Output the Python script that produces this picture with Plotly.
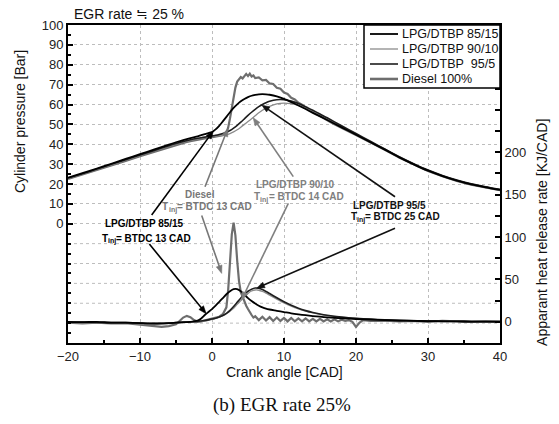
import numpy as np
import plotly.graph_objects as go

# ---------------- data ----------------
CA = [-20, -18, -16, -14, -12, -10, -8, -6, -5, -4, -3, -2, -1.5, -1, -0.5, 0, 0.5, 1, 1.5, 2,
      2.5, 3, 3.5, 4, 4.5, 5, 5.5, 6, 6.5, 7, 7.5, 8, 9, 10, 11, 12, 13, 14, 15, 16,
      18, 20, 22, 24, 26, 28, 30, 32, 34, 36, 38, 40]

P_85_15 = [23.2, 25.5, 27.8, 30.2, 32.6, 35.0, 37.4, 39.8, 41.0, 42.1, 43.1, 44.0, 44.6, 45.1, 45.6, 46.2, 47.5, 49.3, 51.5, 53.8,
           56.1, 58.3, 60.1, 61.6, 62.8, 63.7, 64.4, 64.8, 65.1, 65.2, 65.1, 64.9, 64.1, 62.8, 61.2, 59.5, 57.7, 55.8, 54.0, 52.2,
           48.5, 44.8, 41.0, 37.3, 33.4, 29.9, 26.7, 24.0, 21.7, 19.8, 18.3, 17.0]
P_90_10 = [22.8, 25.0, 27.3, 29.6, 32.0, 34.3, 36.7, 39.0, 40.1, 41.1, 42.0, 42.7, 43.0, 43.3, 43.6, 43.9, 44.1, 44.3, 44.5, 44.8,
           45.4, 46.2, 47.3, 48.6, 50.0, 51.4, 52.8, 54.3, 55.8, 57.1, 58.2, 59.1, 60.3, 60.7, 60.4, 59.6, 58.3, 56.7, 54.9, 53.0,
           49.0, 45.1, 41.2, 37.4, 33.5, 30.0, 26.8, 24.1, 21.8, 19.9, 18.4, 17.1]
P_95_5 = [23.0, 25.2, 27.5, 29.9, 32.2, 34.6, 36.9, 39.3, 40.4, 41.4, 42.3, 43.0, 43.3, 43.6, 43.9, 44.2, 44.5, 44.9, 45.4, 46.0,
          46.9, 48.1, 49.5, 51.1, 52.8, 54.5, 56.1, 57.6, 58.9, 60.0, 60.9, 61.6, 62.4, 62.4, 61.7, 60.5, 58.9, 57.1, 55.2, 53.3,
          49.3, 45.4, 41.5, 37.6, 33.7, 30.2, 27.0, 24.3, 22.0, 20.1, 18.6, 17.3]

HRR_85_15 = [0, -0.5, 0, -1, -1, -1.5, -2, -1.5, -1, -0.5, 0, 1.5, 4, 8, 11.5, 15, 19, 23.5, 28, 32.5,
             36, 38.5, 38.5, 36, 32, 28, 24.5, 21.5, 19, 17, 15.5, 14.5, 13, 11.5, 10, 8.8, 7.8, 6.8, 6, 5.3,
             4.2, 3.2, 2.5, 1.9, 1.5, 1.1, 0.8, 0.6, 0.4, 0.3, 0.2, 0.1]
HRR_90_10 = [0, 0, -0.5, -1, -1.5, -2, -2.5, -2, -1.5, -1, -0.5, 0, 0.5, 1, 1.8, 2.8, 4, 5.5, 7.3, 9.5,
             12.5, 16, 20.5, 25, 29.5, 33.5, 36.3, 37.5, 37.2, 35.8, 33.8, 31.5, 26.8, 22.3, 18.4, 15.2, 12.6, 10.5, 8.8, 7.4,
             5.4, 4, 3, 2.2, 1.7, 1.3, 1, 0.7, 0.5, 0.4, 0.3, 0.2]
HRR_95_5 = [0, -0.5, -0.5, -1, -1, -1.5, -2, -1.5, -1, -0.5, 0, 0.5, 1, 1.6, 2.3, 3.2, 4.3, 5.6, 7.4, 10,
            13.5, 18, 23, 28, 32.5, 36, 38.5, 39.8, 39.5, 38, 35.8, 33.3, 28.3, 23.6, 19.5, 16, 13.2, 11, 9.2, 7.8,
            5.7, 4.2, 3.1, 2.3, 1.7, 1.3, 1, 0.8, 0.6, 0.4, 0.3, 0.2]

CA_DIESEL = [-20, -18, -16, -14, -12, -10, -8, -7, -6, -5,
             -4.5, -4, -3.5, -3, -2.5, -2, -1.5, -1, -0.5, 0, 0.5, 1, 1.5, 2,
             2.25, 2.5, 2.75, 3, 3.25, 3.5, 3.75, 4, 4.25, 4.5, 4.75, 5, 5.25, 5.5, 5.75, 6,
             6.5, 7, 7.5, 8, 8.5, 9, 9.5, 10, 10.5, 11, 11.5, 12, 12.5, 13, 13.5, 14, 14.5, 15, 15.5, 16,
             16.5, 17, 17.5, 18, 18.5, 19, 19.5, 20, 20.5, 21,
             22, 24, 26, 28, 30, 32, 34, 36, 38, 40]
P_DIESEL = [22.6, 24.8, 27.0, 29.3, 31.6, 34.0, 36.3, 37.5, 38.6, 39.7,
            40.2, 40.7, 41.2, 41.6, 42.0, 42.3, 42.6, 42.9, 43.2, 43.5, 43.8, 44.1, 44.6, 45.6,
            48.5, 53.0, 58.5, 64.0, 68.5, 71.5, 72.6, 73.8, 73.1, 74.6, 75.4, 74.3, 75.5, 74.1, 74.6, 73.3,
            73.6, 72.2, 72.4, 70.6, 70.3, 68.4, 67.9, 66.0, 65.3, 63.4, 62.5, 60.9, 59.9, 58.4, 57.3, 56.1, 55.0, 54.0, 53.0, 52.0,
            51.0, 50.1, 49.1, 48.2, 47.3, 46.4, 45.5, 44.6, 43.7, 42.8,
            41.0, 37.2, 33.3, 29.8, 26.6, 23.9, 21.6, 19.7, 18.2, 16.9]
HRR_DIESEL = [-1, -2, -1, -2, -1.5, -3, -5, -6, -5, -3,
              1, 5, 7, 5.5, 2, 0, 0.5, 1.5, 2.5, 3.5, 4.5, 6, 9, 17,
              38, 72, 103, 117, 102, 72, 48, 35, 29, 24, 19, 15, 11, 8, 5, 6.5,
              2, 6, 1.5, 5.5, 1, 5, 1, 4.5, 0.5, 4.5, 0.5, 4, 0.5, 4, 0.5, 3.5, 0.5, 3.5, 0.5, 3,
              0.5, 3, 0.5, 2.5, 1, 2, 0, -6, -1, 2,
              1, 1.5, 0.5, 1, 0, 1, 0.5, 0, 0.5, 0]

X_RANGE = [-20, 40]
P_RANGE = [-60, 100]
H_RANGE = [-25, 350]
X_TICKS = [-20, -10, 0, 10, 20, 30, 40]
P_TICKS = list(range(0, 101, 10))                 # labelled pressure ticks
P_MINOR = [v for v in range(-60, 101, 5) if v not in P_TICKS]
P_GRID_LOW = list(range(-50, 0, 10))              # grid lines below the labelled part
H_TICKS = [0, 50, 100, 150, 200]                  # labelled heat-release ticks
H_MINOR = [v for v in range(-25, 351, 25) if v not in H_TICKS]

# ---------------- figure ----------------
W, H = 559, 424
M = dict(l=68, r=59, t=25, b=81)
PLOT_L, PLOT_T = M["l"], M["t"]
PLOT_W, PLOT_H = W - M["l"] - M["r"], H - M["t"] - M["b"]

fig = go.Figure()
series = [
    ("Diesel 100%", CA_DIESEL, P_DIESEL, HRR_DIESEL, "#6e6e6e", 2.2, "linear"),
    ("LPG/DTBP 90/10", CA, P_90_10, HRR_90_10, "#8c8c8c", 1.3, "spline"),
    ("LPG/DTBP\u00a0 95/5", CA, P_95_5, HRR_95_5, "#1e1e1e", 1.6, "spline"),
    ("LPG/DTBP 85/15", CA, P_85_15, HRR_85_15, "#000000", 1.8, "spline"),
]
for name, xs, ps, hs, col, w, shape in series:
    fig.add_trace(go.Scatter(x=xs, y=ps, mode="lines", name=name, showlegend=False,
                             line=dict(color=col, width=w, shape=shape, smoothing=0.6)))
    fig.add_trace(go.Scatter(x=xs, y=hs, mode="lines", name=name, showlegend=False, yaxis="y2",
                             line=dict(color=col, width=w, shape=shape, smoothing=0.6)))

GRID = "#bdbdbd"
AXFONT = dict(family="Arial, Liberation Sans, sans-serif", size=13, color="#222")
fig.update_layout(
    width=W, height=H, margin=M,
    paper_bgcolor="white", plot_bgcolor="white",
    font=AXFONT, showlegend=False,
    xaxis=dict(range=X_RANGE, tickvals=X_TICKS, ticks="inside", ticklen=5, tickwidth=1.5,
               tickcolor="black", minor=dict(dtick=5, ticks="inside", ticklen=3, tickcolor="black", showgrid=False),
               showline=True, linecolor="black", linewidth=2, mirror=True,
               showgrid=True, gridcolor=GRID, griddash="dot", gridwidth=1, zeroline=False,
               tickfont=AXFONT),
    yaxis=dict(range=P_RANGE, tickvals=P_TICKS, ticks="inside", ticklen=5,
               tickwidth=1.5, tickcolor="black",
               minor=dict(tickvals=P_MINOR, ticks="inside", ticklen=3, tickcolor="black", showgrid=False),
               showline=True, linecolor="black", linewidth=2,
               showgrid=True, gridcolor=GRID, griddash="dot", gridwidth=1, zeroline=False,
               tickfont=AXFONT),
    yaxis2=dict(range=H_RANGE, overlaying="y", side="right", tickvals=H_TICKS,
                ticks="inside", ticklen=5, tickwidth=1.5, tickcolor="black",
                minor=dict(tickvals=H_MINOR, ticks="inside", ticklen=5, tickwidth=1.5,
                           tickcolor="black", showgrid=False),
                showline=True, linecolor="black", linewidth=2, showgrid=False, zeroline=False,
                tickfont=AXFONT),
)

# grid lines for the unlabelled lower part of the pressure axis
for g in P_GRID_LOW:
    fig.add_shape(type="line", xref="paper", yref="y", x0=0, x1=1, y0=g, y1=g,
                  line=dict(color=GRID, width=1, dash="dot"), layer="below")

# pixel <-> paper helpers
def px(xp):
    return (xp - PLOT_L) / PLOT_W
def py(yp):
    return (PLOT_T + PLOT_H - yp) / PLOT_H
def data_to_px(x, y, axis):
    rng = P_RANGE if axis == "y" else H_RANGE
    X = PLOT_L + (x - X_RANGE[0]) / (X_RANGE[1] - X_RANGE[0]) * PLOT_W
    Y = PLOT_T + PLOT_H - (y - rng[0]) / (rng[1] - rng[0]) * PLOT_H
    return X, Y

# ---- custom legend box (paper coordinates) ----
fig.add_shape(type="rect", xref="paper", yref="paper", x0=px(364), x1=1.0, y0=py(88), y1=1.0,
              line=dict(color="black", width=1.5), fillcolor="white", layer="above")
legend_rows = [
    ("LPG/DTBP 85/15", "#000000", 1.8),
    ("LPG/DTBP 90/10", "#8c8c8c", 1.3),
    ("LPG/DTBP\u00a0 95/5", "#1e1e1e", 1.6),
    ("Diesel 100%", "#6e6e6e", 2.6),
]
for i, (name, col, w) in enumerate(legend_rows):
    yy = 34 + 15 * i
    fig.add_shape(type="line", xref="paper", yref="paper", x0=px(370), x1=px(398), y0=py(yy), y1=py(yy),
                  line=dict(color=col, width=w), layer="above")
    fig.add_annotation(text=name, xref="paper", yref="paper", x=px(400), y=py(yy), xanchor="left",
                       yanchor="middle", showarrow=False,
                       font=dict(family="Arial, Liberation Sans, sans-serif", size=12.5, color="#111"))

# titles / captions
ann = [
    dict(text="EGR rate \u2252 25 %", x=0.009, y=1.035, xanchor="left", yanchor="middle",
         font=dict(size=14, color="#111")),
    dict(text="Crank angle [CAD]", x=0.5, y=-0.091, xanchor="center", yanchor="middle",
         font=dict(size=14, color="#111")),
    dict(text="(b) EGR rate 25%", x=0.495, y=-0.195, xanchor="center", yanchor="middle",
         font=dict(family="Liberation Serif, Times New Roman, serif", size=19, color="#111")),
    dict(text="Cylinder pressure [Bar]", x=-0.111, y=0.695, textangle=-90, xanchor="center",
         yanchor="middle", font=dict(size=14, color="#111")),
    dict(text="Apparant heat release rate [KJ/CAD]", x=1.097, y=0.349, textangle=-90,
         xanchor="center", yanchor="middle", font=dict(size=14, color="#111")),
]
for a in ann:
    fig.add_annotation(xref="paper", yref="paper", showarrow=False, **a)

# ---- curve labels (bold via font weight) ----
FAM = "Arial, Liberation Sans, sans-serif"
def label(text, x, y, c, size=10, xshift=0, yshift=0, anchor="center"):
    fig.add_annotation(text=text, x=x, y=y, xref="x", yref="y", showarrow=False,
                       font=dict(family=FAM, size=size, weight="bold", color=c),
                       xanchor=anchor, yanchor="middle", xshift=xshift, yshift=yshift)

def tinj_label(rest, x, y, c):
    w_T, w_inj, w_rest = 6.1, 8.2, 74.7      # approx. pixel widths (bold, 10 px / 7 px)
    left = -(w_T + w_inj + w_rest + 0.6) / 2
    label("T", x, y, c, xshift=left, anchor="left")
    label("inj", x, y, c, size=7, xshift=left + w_T + 0.3, yshift=-3, anchor="left")
    label(rest, x, y, c, xshift=left + w_T + w_inj + 0.6, anchor="left")

label("LPG/DTBP 85/15", -9.4, 0.23, "#000")
tinj_label("= BTDC 13 CAD", -9.4, -7.3, "#000")
label("Diesel", -1.67, 14.8, "#777")
tinj_label("= BTDC 13 CAD", -0.97, 8.6, "#777")
label("LPG/DTBP 90/10", 11.53, 19.5, "#808080")
tinj_label("= BTDC 14 CAD", 11.76, 13.6, "#808080")
label("LPG/DTBP 95/5", 24.72, 9.4, "#111")
tinj_label("= BTDC 25 CAD", 25.18, 3.5, "#111")

# ---- arrows (line + filled head), heads placed on the curves ----
def on(xs, ys, x0):
    return x0, float(np.interp(x0, xs, ys))

arrows = [
    # head (x, y), tail (x, y), axis, colour
    (on(CA, P_85_15, 0.2), (-8.38, 4.4), "y", "#000"),
    (on(CA, HRR_85_15, -0.8), (-8.7, 91.7), "y2", "#000"),
    (on(CA_DIESEL, P_DIESEL, 2.2), (-0.97, 18.6), "y", "#777"),
    ((1.35, 57.0), (-1.43, 125.4), "y2", "#777"),
    (on(CA, P_90_10, 5.7), (11.29, 23.7), "y", "#808080"),
    (on(CA, HRR_90_10, 4.1), (10.6, 139.7), "y2", "#808080"),
    (on(CA, P_95_5, 6.9), (25.42, 13.6), "y", "#111"),
    (on(CA, HRR_95_5, 6.2), (25.42, 110.3), "y2", "#111"),
]
HEAD_L, HEAD_W = 8.0, 3.0
for (hx, hy), (tx, ty), ax_, c in arrows:
    HX, HY = data_to_px(hx, hy, ax_)
    TX, TY = data_to_px(tx, ty, ax_)
    dx, dy = HX - TX, HY - TY
    L = (dx * dx + dy * dy) ** 0.5
    ux, uy = dx / L, dy / L
    BX, BY = HX - ux * HEAD_L, HY - uy * HEAD_L
    fig.add_shape(type="line", xref="paper", yref="paper", x0=px(TX), y0=py(TY),
                  x1=px(BX + ux * 1.5), y1=py(BY + uy * 1.5),
                  line=dict(color=c, width=1.6), layer="above")
    p1 = (BX - uy * HEAD_W, BY + ux * HEAD_W)
    p2 = (BX + uy * HEAD_W, BY - ux * HEAD_W)
    path = "M{:.5f},{:.5f} L{:.5f},{:.5f} L{:.5f},{:.5f} Z".format(
        px(HX), py(HY), px(p1[0]), py(p1[1]), px(p2[0]), py(p2[1]))
    fig.add_shape(type="path", xref="paper", yref="paper", path=path,
                  fillcolor=c, line=dict(color=c, width=0.5), layer="above")

fig.write_html("out.html")
